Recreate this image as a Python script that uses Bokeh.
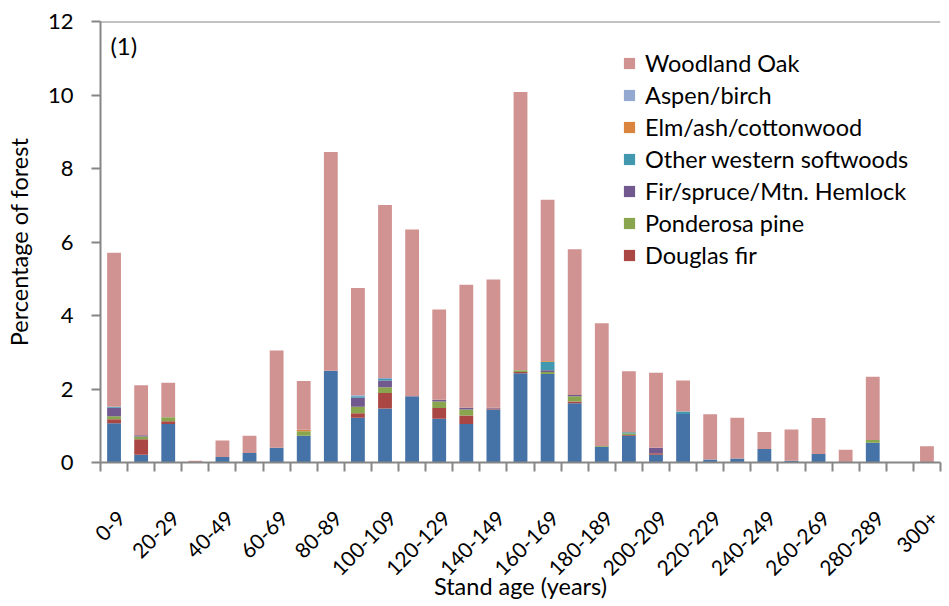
import math
from bokeh.plotting import figure
from bokeh.models import (ColumnDataSource, Range1d, FixedTicker, Legend,
                          LegendItem, Label, Span)
from bokeh.embed import file_html
from bokeh.resources import INLINE

# ---------------- data ----------------
age_classes = ["0-9", "10-19", "20-29", "30-39", "40-49", "50-59", "60-69",
               "70-79", "80-89", "90-99", "100-109", "110-119", "120-129",
               "130-139", "140-149", "150-159", "160-169", "170-179",
               "180-189", "190-199", "200-209", "210-219", "220-229",
               "230-239", "240-249", "250-259", "260-269", "270-279",
               "280-289", "290-299", "300+"]

# bottom (blue) series, not shown in the legend
other_forest = [1.07, 0.21, 1.05, 0.00, 0.15, 0.26, 0.40, 0.73, 2.50, 1.22,
                1.47, 1.80, 1.19, 1.05, 1.44, 2.43, 2.41, 1.61, 0.43, 0.73,
                0.21, 1.32, 0.08, 0.11, 0.37, 0.05, 0.23, 0.00, 0.54, 0.00,
                0.00]
douglas_fir = [0.11, 0.42, 0.07, 0.00, 0.00, 0.00, 0.00, 0.00, 0.00, 0.12,
               0.42, 0.00, 0.29, 0.23, 0.03, 0.03, 0.00, 0.05, 0.00, 0.02,
               0.04, 0.00, 0.00, 0.00, 0.00, 0.00, 0.00, 0.00, 0.00, 0.00,
               0.00]
ponderosa_pine = [0.08, 0.08, 0.11, 0.00, 0.00, 0.00, 0.00, 0.12, 0.00, 0.18,
                  0.16, 0.00, 0.18, 0.16, 0.00, 0.05, 0.05, 0.14, 0.02, 0.04,
                  0.00, 0.00, 0.00, 0.00, 0.00, 0.00, 0.00, 0.00, 0.07, 0.00,
                  0.00]
fir_spruce = [0.23, 0.03, 0.00, 0.00, 0.00, 0.00, 0.00, 0.00, 0.00, 0.24,
              0.18, 0.00, 0.05, 0.05, 0.02, 0.00, 0.05, 0.04, 0.00, 0.00,
              0.15, 0.00, 0.00, 0.00, 0.00, 0.00, 0.00, 0.00, 0.00, 0.00,
              0.00]
other_western = [0.02, 0.00, 0.00, 0.00, 0.00, 0.00, 0.00, 0.00, 0.00, 0.04,
                 0.04, 0.00, 0.00, 0.00, 0.00, 0.00, 0.23, 0.00, 0.00, 0.03,
                 0.00, 0.07, 0.00, 0.00, 0.00, 0.00, 0.00, 0.00, 0.00, 0.00,
                 0.00]
elm_ash = [0.00, 0.00, 0.00, 0.00, 0.00, 0.00, 0.00, 0.04, 0.00, 0.00,
           0.00, 0.00, 0.00, 0.00, 0.00, 0.00, 0.02, 0.00, 0.00, 0.01,
           0.00, 0.00, 0.00, 0.00, 0.00, 0.00, 0.00, 0.00, 0.00, 0.00,
           0.00]
aspen_birch = [0.01, 0.00, 0.00, 0.00, 0.00, 0.00, 0.00, 0.00, 0.00, 0.03,
               0.03, 0.00, 0.00, 0.00, 0.00, 0.00, 0.00, 0.00, 0.00, 0.00,
               0.00, 0.00, 0.00, 0.00, 0.00, 0.00, 0.00, 0.00, 0.00, 0.00,
               0.00]
woodland_oak = [4.19, 1.36, 0.94, 0.05, 0.45, 0.47, 2.65, 1.33, 5.95, 2.92,
                4.71, 4.54, 2.45, 3.35, 3.49, 7.57, 4.39, 3.96, 3.34, 1.65,
                2.04, 0.84, 1.23, 1.11, 0.46, 0.85, 0.98, 0.35, 1.72, 0.00,
                0.44]

series_keys = ["other_forest", "douglas_fir", "ponderosa_pine", "fir_spruce",
               "other_western", "elm_ash", "aspen_birch", "woodland_oak"]
series_names = ["Other", "Douglas fir", "Ponderosa pine",
                "Fir/spruce/Mtn. Hemlock", "Other western softwoods",
                "Elm/ash/cottonwood", "Aspen/birch", "Woodland Oak"]
colors = ["#4572A7", "#AA4643", "#89A54E", "#71588F", "#4198AF", "#DB843D",
          "#93A9CF", "#D19392"]
y_ticks = [0, 2, 4, 6, 8, 10, 12]

# ---------------- figure ----------------
FONT = "Lato"
AXIS_GRAY = "#868686"
n = len(age_classes)
positions = [i + 0.5 for i in range(n)]
LABEL_SHIFT = 0.28   # rotated labels hang down-left; nudge their anchor right

source = ColumnDataSource(dict(
    x=positions, age=age_classes,
    other_forest=other_forest, douglas_fir=douglas_fir,
    ponderosa_pine=ponderosa_pine, fir_spruce=fir_spruce,
    other_western=other_western, elm_ash=elm_ash,
    aspen_birch=aspen_birch, woodland_oak=woodland_oak))

p = figure(width=949, height=606, output_backend="svg", toolbar_location=None,
           x_range=Range1d(0, n), y_range=Range1d(0, y_ticks[-1]),
           min_border_left=100, min_border_top=21, min_border_right=9,
           min_border_bottom=144)
p.outline_line_color = None
p.grid.grid_line_color = None
p.background_fill_color = "white"

renderers = p.vbar_stack(series_keys, x="x", width=0.51, source=source,
                         color=colors, line_color=None)

# top border line of the plot area
p.add_layout(Span(location=y_ticks[-1], dimension="width",
                  line_color=AXIS_GRAY, line_width=2))

# x axis: tick marks on category boundaries, labels on every other category
label_ticks = [positions[i] + LABEL_SHIFT for i in range(0, n, 2)]
p.xaxis.ticker = FixedTicker(ticks=label_ticks,
                             minor_ticks=list(range(n + 1)))
p.xaxis.major_label_overrides = {positions[i] + LABEL_SHIFT: age_classes[i]
                                 for i in range(0, n, 2)}
p.xaxis.major_tick_line_color = None
p.xaxis.major_tick_out = 9
p.xaxis.major_tick_in = 0
p.xaxis.minor_tick_line_color = AXIS_GRAY
p.xaxis.minor_tick_out = 9
p.xaxis.minor_tick_in = 0
p.xaxis.minor_tick_line_width = 2
p.xaxis.major_label_orientation = math.pi / 4
p.xaxis.major_label_standoff = 43
p.xaxis.axis_label = "Stand age (years)"
p.xaxis.axis_label_standoff = -13

# y axis
p.yaxis.ticker = FixedTicker(ticks=y_ticks, minor_ticks=[])
p.yaxis.major_tick_out = 9
p.yaxis.major_tick_in = 0
p.yaxis.major_tick_line_color = AXIS_GRAY
p.yaxis.major_tick_line_width = 2
p.yaxis.major_label_standoff = 18
p.yaxis.axis_label = "Percentage of forest"
p.yaxis.axis_label_standoff = 12

for ax in (p.xaxis, p.yaxis):
    ax.axis_line_color = AXIS_GRAY
    ax.axis_line_width = 2
    ax.major_label_text_font = FONT
    ax.major_label_text_color = "black"
    ax.axis_label_text_font = FONT
    ax.axis_label_text_font_size = "23.5px"
    ax.axis_label_text_font_style = "normal"
    ax.axis_label_text_color = "black"
p.xaxis.major_label_text_font_size = "21px"
p.yaxis.major_label_text_font_size = "22px"

# legend (blue bottom series is not listed)
items = [LegendItem(label=series_names[k], renderers=[renderers[k]])
         for k in range(len(series_keys) - 1, 0, -1)]
legend = Legend(items=items, location=(522, 193), padding=0, margin=0,
                spacing=4, glyph_width=14, glyph_height=14, label_height=28,
                label_standoff=9, border_line_color=None,
                background_fill_alpha=0, label_text_font=FONT,
                label_text_font_size="23.5px", label_text_color="black")
p.add_layout(legend)

p.add_layout(Label(x=0.365, y=11.35, text="(1)", text_font=FONT,
                   text_font_size="24px", text_baseline="middle",
                   text_align="left", text_color="black"))

open("out.html", "w").write(file_html(p, INLINE))
